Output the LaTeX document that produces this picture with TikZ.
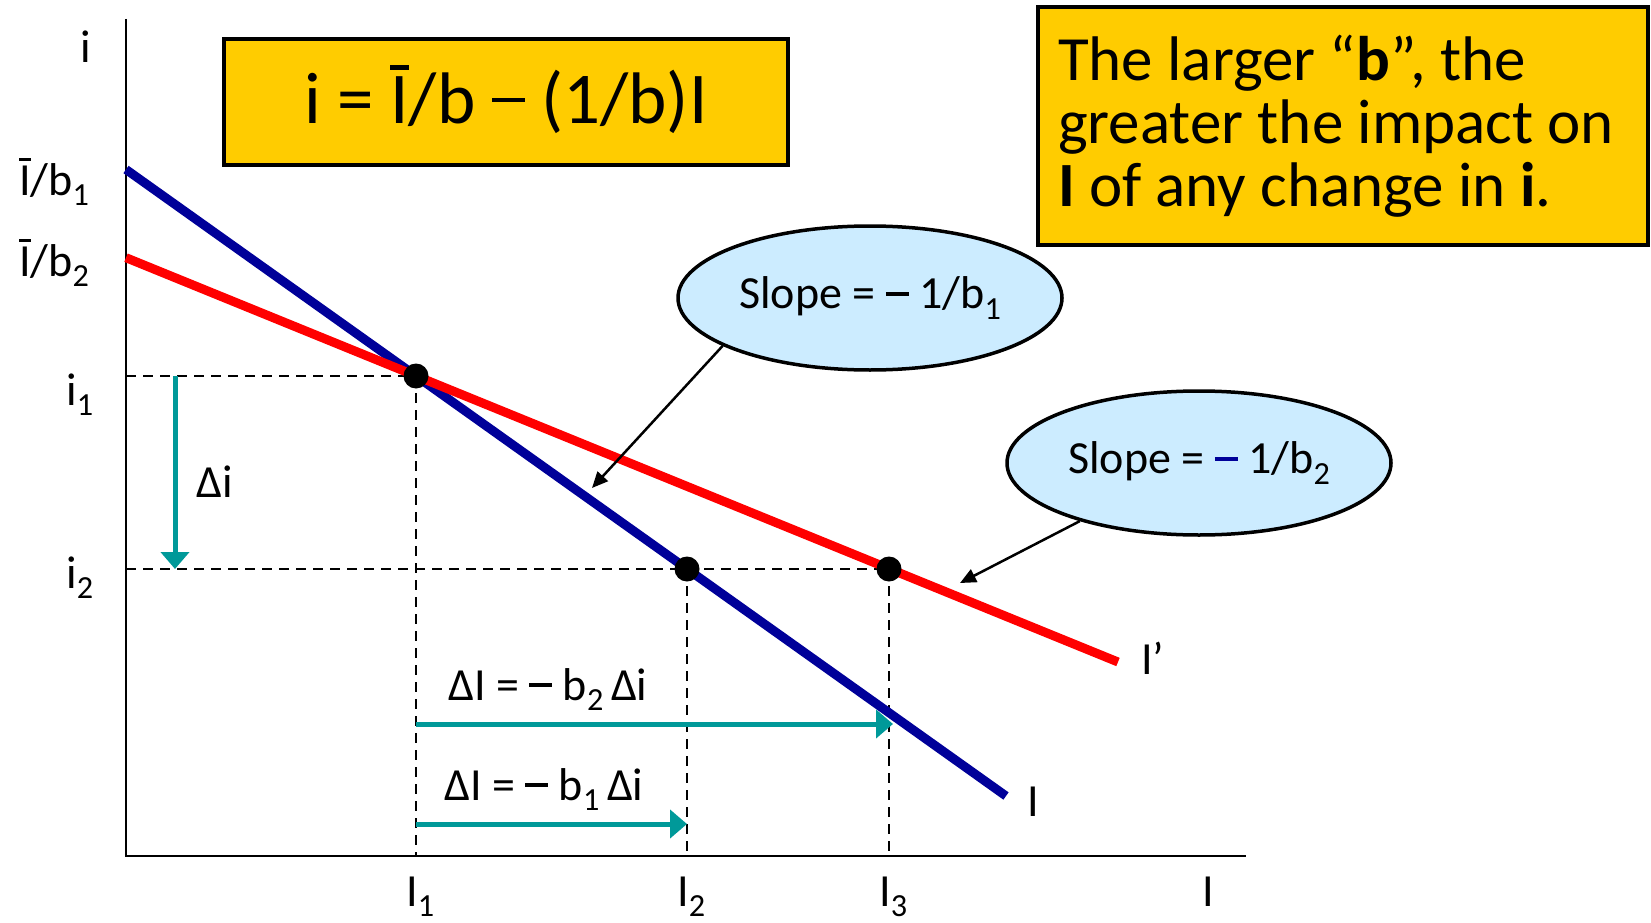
\documentclass[tikz,border=0pt]{standalone}
\usepackage{fontspec}
\setmainfont{Carlito}
\usetikzlibrary{arrows.meta,shapes.geometric}
\definecolor{gold}{RGB}{255,204,0}
\definecolor{navy}{RGB}{0,0,153}
\definecolor{tealarrow}{RGB}{0,153,153}
\definecolor{lightblue}{RGB}{204,236,255}
\newcommand\sbx[1]{\raisebox{-0.22em}{\scalebox{0.7}{#1}}}
\newcommand\lblfont{\fontsize{46}{55}\selectfont}
\newcommand\Ibar{\ooalign{I\cr\hidewidth\rule[0.74em]{0.26em}{0.07em}\hidewidth\cr}}
\newcommand\bdash{\rule[0.28em]{0.5em}{0.09em}}
\newcommand\fdash{\rule[0.29em]{0.45em}{0.055em}}
\begin{document}
\begin{tikzpicture}[x=1pt,y=-1pt,
  lbl/.style={font=\lblfont, inner sep=0},
  axisline/.style={line width=2.5pt},
  guide/.style={dash pattern=on 10pt off 7pt, line width=2pt},
  curveB/.style={navy, line width=9pt},
  curveR/.style={red, line width=9pt},
  dot/.style={circle, fill=black, minimum size=25pt, inner sep=0},
  shiftarrow/.style={tealarrow, line width=5pt, -{Triangle[length=17pt,width=28pt]}},
  callout/.style={ellipse, draw, line width=3.5pt, fill=lightblue, minimum width=384pt, minimum height=144pt, inner sep=0, font=\lblfont},
  pointer/.style={line width=2.5pt, -{Triangle[length=16pt,width=14pt]}},
  box/.style={draw, line width=4pt, fill=gold, inner sep=0}]
\useasboundingbox (0,0) rectangle (1651,923);

% axes
\coordinate (ytop) at (126,19);
\coordinate (O) at (126,856);
\coordinate (xend) at (1246,856);
\draw[axisline] (ytop) -- (O) -- (xend);

% points
\coordinate (P1) at (416,376);
\coordinate (P2) at (687,569);
\coordinate (P3) at (889,569);
\coordinate (yi1) at (126,376);
\coordinate (yi2) at (126,569);
\coordinate (xI1) at (416,856);
\coordinate (xI2) at (687,856);
\coordinate (xI3) at (889,856);

% guides
\draw[guide] (yi1) -- (P1);
\draw[guide] (yi2) -- (P3);
\draw[guide] (P1) -- (xI1);
\draw[guide] (P2) -- (xI2);
\draw[guide] (P3) -- (xI3);

% curves
\coordinate (B1) at (126,169.5);
\coordinate (B2) at (1006,796);
\coordinate (R1) at (126,257.7);
\coordinate (R2) at (1118,662);
\draw[curveB] (B1) -- (B2);
\draw[curveR] (R1) -- (R2);

% shift arrows
\coordinate (di1) at (175,376);
\coordinate (di2) at (175,569);
\draw[shiftarrow] (di1) -- (di2);
\coordinate (a2s) at (416,724);
\coordinate (a2e) at (893,724);
\draw[shiftarrow] (a2s) -- (a2e);
\coordinate (a1s) at (416,824);
\coordinate (a1e) at (687,824);
\draw[shiftarrow] (a1s) -- (a1e);

% dots
\node[dot] (d1) at (P1) {};
\node[dot] (d2) at (P2) {};
\node[dot] (d3) at (P3) {};

% boxes
\node[box, minimum width=564pt, minimum height=126pt, font=\fontsize{73}{80}\selectfont] (formula) at (506,102) {i = \Ibar/b \fdash{} (1/b)I};
\node[box, minimum width=610pt, minimum height=238pt, align=left, font=\fontsize{63}{63}\selectfont] (note) at (1343,126)
  {The larger “\textbf{b}”, the\\greater the impact on\rule{14pt}{0pt}\\\textbf{I} of any change in \textbf{i}.};

% callouts
\node[callout] (E1) at (870,298) {Slope = \bdash{} 1/b\sbx{1}};
\node[callout] (E2) at (1199,463) {Slope = \textcolor{navy}{\bdash} 1/b\sbx{2}};
\coordinate (t1) at (592,488);
\coordinate (t2) at (960,583);
\draw[pointer] (E1.198.5) -- (t1);
\draw[pointer] (E2.206) -- (t2);

% labels
\node[lbl, anchor=base] (li) at (86,63) {i};
\node[lbl, anchor=base west] (lb1) at (19,195) {\Ibar/b\sbx{1}};
\node[lbl, anchor=base west] (lb2) at (19,276) {\Ibar/b\sbx{2}};
\node[lbl, anchor=base west] (li1) at (66,405) {i\sbx{1}};
\node[lbl, anchor=base west] (li2) at (66,588) {i\sbx{2}};
\node[lbl, anchor=base west] (ldi) at (196,497) {Δi};
\node[lbl, anchor=base west] (lI1) at (406,906) {I\sbx{1}};
\node[lbl, anchor=base west] (lI2) at (677,906) {I\sbx{2}};
\node[lbl, anchor=base west] (lI3) at (879,906) {I\sbx{3}};
\node[lbl, anchor=base] (lIax) at (1208,906) {I};
\node[lbl, anchor=base west] (lIB) at (1027,816) {I};
\node[lbl, anchor=base west] (lIR) at (1141,674) {I’};
\node[lbl, anchor=base west] (ld2) at (448,700) {ΔI = \bdash{} b\sbx{2}\,Δi};
\node[lbl, anchor=base west] (ld1) at (444,800) {ΔI = \bdash{} b\sbx{1}\,Δi};
\end{tikzpicture}
\end{document}
